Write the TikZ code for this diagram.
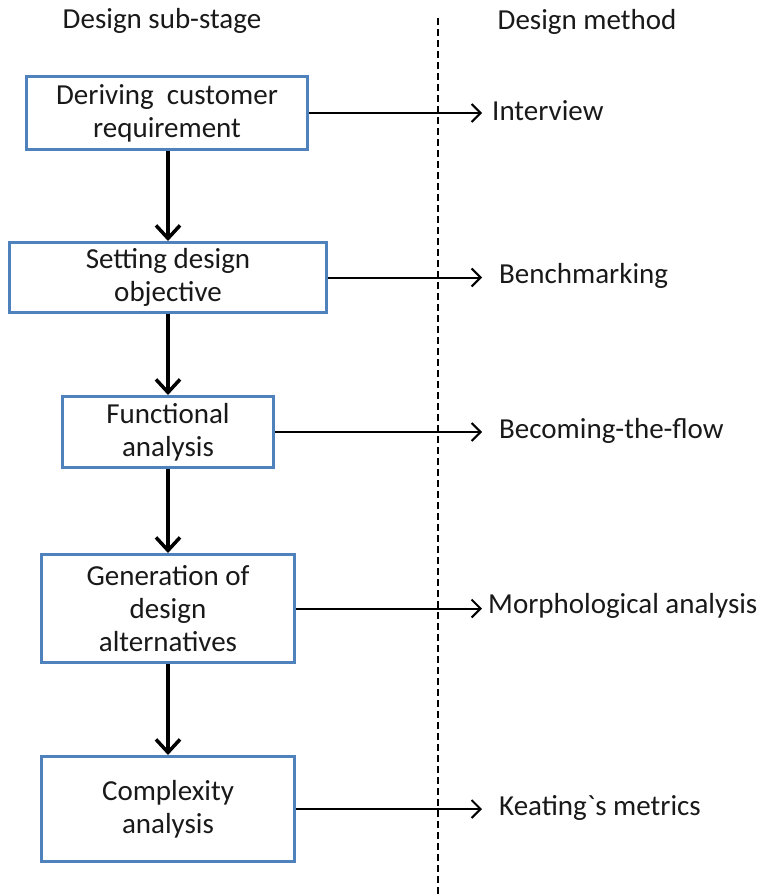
\documentclass[tikz,border=0pt]{standalone}
\usepackage{fontspec}
\setmainfont{Carlito}[Ligatures=TeXOff]
\usetikzlibrary{arrows.meta}
\definecolor{boxblue}{HTML}{4F81BD}
\begin{document}
\begin{tikzpicture}[x=1pt,y=-1pt,
  every node/.style={font=\fontsize{29}{33}\selectfont, text=black!90},
  stagebox/.style={draw=boxblue, line width=3pt, fill=white, align=center,
    inner sep=0pt, anchor=north west},
  flow/.style={line width=4pt, -{Straight Barb[length=13pt,width=24pt,line width=3.5pt]}},
  method/.style={line width=2pt, -{Straight Barb[length=9pt,width=18pt,line width=2pt]}},
  label/.style={anchor=west, inner sep=0pt}]
\useasboundingbox (0,0) rectangle (765,894);
% separator between the two columns
\draw[line width=1.5pt, dash pattern=on 7pt off 4pt] (438,18) -- (438,894);
% column headings
\node (h1) at (162,21) {Design sub-stage};
\node (h2) at (587,22) {Design method};
% design sub-stages
\node[stagebox, minimum width=281pt, minimum height=73pt] (s1) at (25,75)
  {Deriving\ \ customer\\requirement};
\node[stagebox, minimum width=317pt, minimum height=70pt] (s2) at (8,241)
  {Setting design\\objective};
\node[stagebox, minimum width=211pt, minimum height=71pt] (s3) at (61,395)
  {Functional\\analysis};
\node[stagebox, minimum width=253pt, minimum height=108pt] (s4) at (40,553)
  {Generation of\\design\\alternatives};
\node[stagebox, minimum width=253pt, minimum height=105pt] (s5) at (40,755)
  {Complexity\\analysis};
% design methods
\node[label] (m1) at (492,111) {Interview};
\node[label] (m2) at (499,276) {Benchmarking};
\node[label] (m3) at (499,431) {Becoming-the-flow};
\node[label] (m4) at (488,606) {Morphological analysis};
\node[label] (m5) at (499,808) {Keating`s metrics};
% arrow end points just left of each method
\coordinate (e1) at (482,0);
\coordinate (e2) at (482,0);
\coordinate (e3) at (482,0);
\coordinate (e4) at (482,0);
\coordinate (e5) at (482,0);
% flow between sub-stages
\draw[flow] (s1.south -| 168,0) -- (s2.north -| 168,0);
\draw[flow] (s2.south -| 168,0) -- (s3.north -| 168,0);
\draw[flow] (s3.south -| 168,0) -- (s4.north -| 168,0);
\draw[flow] (s4.south -| 168,0) -- (s5.north -| 168,0);
% links to methods
\draw[method] (s1.east) -- (e1 |- s1.east);
\draw[method] (s2.east) -- (e2 |- s2.east);
\draw[method] (s3.east) -- (e3 |- s3.east);
\draw[method] (s4.east) -- (e4 |- s4.east);
\draw[method] (s5.east) -- (e5 |- s5.east);
\end{tikzpicture}
\end{document}
